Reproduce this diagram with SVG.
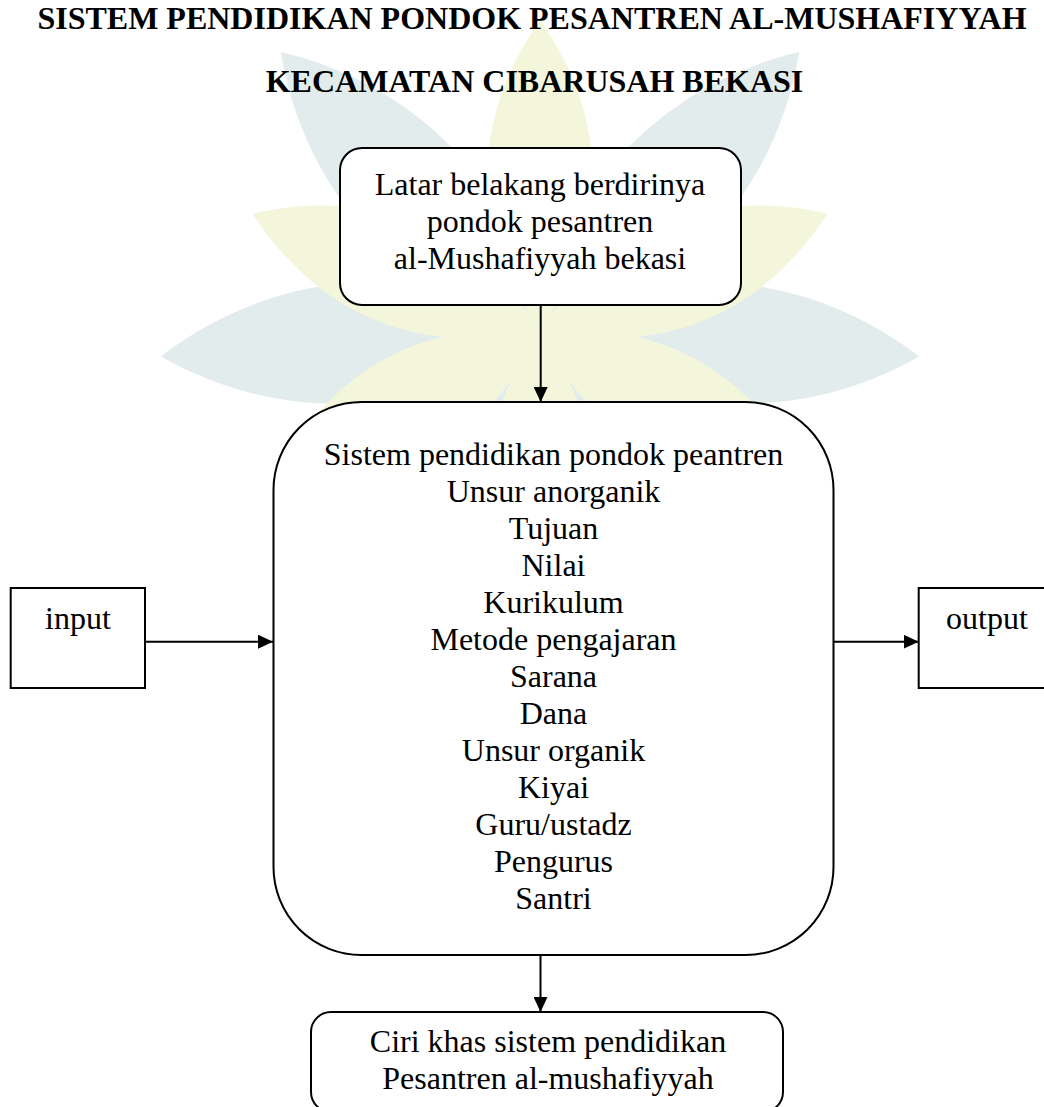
<svg xmlns="http://www.w3.org/2000/svg" width="1044" height="1107" viewBox="0 0 1044 1107">
  <style>
    .t { font-family: "Liberation Serif", "Times New Roman", serif; font-size: 32px; fill: #000; text-anchor: middle; }
    .title { font-family: "Liberation Serif", "Times New Roman", serif; font-size: 32px; font-weight: bold; fill: #000; text-anchor: middle; }
    .box { fill: #fff; stroke: #000; stroke-width: 2; }
    .conn { stroke: #000; stroke-width: 2; fill: none; }
    .teal { fill: #e2eced; }
    .yel { fill: #f4f6db; }
  </style>
  <defs>
    <marker id="arr" markerUnits="userSpaceOnUse" markerWidth="15" markerHeight="14" refX="15" refY="7" orient="auto">
      <path d="M0,0 L15,7 L0,14 Z" fill="#000"/>
    </marker>
    <path id="petalT" d="M0,0 C-80,-110 -80,-260 0,-380 C80,-260 80,-110 0,0 Z"/>
    <path id="petalY" d="M0,0 C-70,-100 -70,-210 0,-310 C70,-210 70,-100 0,0 Z"/>
  </defs>
  <rect width="1044" height="1107" fill="#fff"/>

  <g id="watermark" transform="translate(540,330)">
    <use href="#petalT" class="teal" transform="rotate(-43)"/>
    <use href="#petalT" class="teal" transform="rotate(43)"/>
    <use href="#petalT" class="teal" transform="rotate(-94)"/>
    <use href="#petalT" class="teal" transform="rotate(94)"/>
    <use href="#petalT" class="teal" transform="rotate(-145)"/>
    <use href="#petalT" class="teal" transform="rotate(145)"/>
    <use href="#petalY" class="yel" transform="rotate(0)"/>
    <use href="#petalY" class="yel" transform="rotate(-68)"/>
    <use href="#petalY" class="yel" transform="rotate(68)"/>
    <use href="#petalY" class="yel" transform="rotate(-120)"/>
    <use href="#petalY" class="yel" transform="rotate(120)"/>
    <use href="#petalY" class="yel" transform="rotate(180)"/>
  </g>

  <g id="title">
    <text class="title" x="532" y="29">SISTEM PENDIDIKAN PONDOK PESANTREN AL-MUSHAFIYYAH</text>
    <text class="title" x="534.5" y="92">KECAMATAN CIBARUSAH BEKASI</text>
  </g>

  <g id="connectors">
    <line class="conn" x1="540.7" y1="305" x2="540.7" y2="402" marker-end="url(#arr)"/>
    <line class="conn" x1="145" y1="641.7" x2="273" y2="641.7" marker-end="url(#arr)"/>
    <line class="conn" x1="833.5" y1="641.7" x2="918.7" y2="641.7" marker-end="url(#arr)"/>
    <line class="conn" x1="540.5" y1="955" x2="540.5" y2="1012" marker-end="url(#arr)"/>
  </g>

  <g id="node-latar">
    <rect class="box" x="340" y="148" width="401" height="157" rx="22" ry="22"/>
    <text class="t" x="540" y="195">Latar belakang berdirinya</text>
    <text class="t" x="540" y="232">pondok pesantren</text>
    <text class="t" x="540" y="269">al-Mushafiyyah bekasi</text>
  </g>

  <g id="node-sistem">
    <rect class="box" x="273.5" y="402" width="560" height="553" rx="88" ry="88"/>
    <text class="t" x="553.5" y="465">Sistem pendidikan pondok peantren</text>
    <text class="t" x="553.5" y="502">Unsur anorganik</text>
    <text class="t" x="553.5" y="539">Tujuan</text>
    <text class="t" x="553.5" y="576">Nilai</text>
    <text class="t" x="553.5" y="613">Kurikulum</text>
    <text class="t" x="553.5" y="650">Metode pengajaran</text>
    <text class="t" x="553.5" y="687">Sarana</text>
    <text class="t" x="553.5" y="724">Dana</text>
    <text class="t" x="553.5" y="761">Unsur organik</text>
    <text class="t" x="553.5" y="798">Kiyai</text>
    <text class="t" x="553.5" y="835">Guru/ustadz</text>
    <text class="t" x="553.5" y="872">Pengurus</text>
    <text class="t" x="553.5" y="909">Santri</text>
  </g>

  <g id="node-input">
    <rect class="box" x="10.7" y="588" width="134.3" height="100"/>
    <text class="t" x="78" y="629">input</text>
  </g>

  <g id="node-output">
    <rect class="box" x="918.7" y="588" width="140" height="100"/>
    <text class="t" x="987" y="629">output</text>
  </g>

  <g id="node-ciri">
    <rect class="box" x="311" y="1012" width="472" height="100" rx="20" ry="20"/>
    <text class="t" x="548" y="1052">Ciri khas sistem pendidikan</text>
    <text class="t" x="548" y="1089">Pesantren al-mushafiyyah</text>
  </g>
</svg>
